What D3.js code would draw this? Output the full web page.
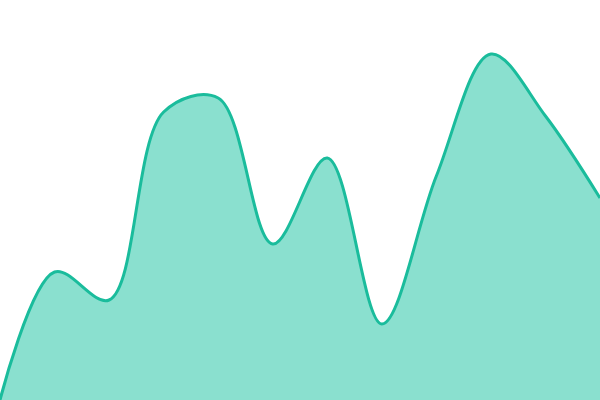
<!DOCTYPE html>
<html>
<head>
<meta charset="utf-8">
<script src="https://cdn.jsdelivr.net/npm/d3@7"></script>
<style>
  html, body { margin: 0; padding: 0; background: #fff; }
  svg { display: block; }
</style>
</head>
<body>
<div id="chart"></div>
<script>
var svgWidth = 600;
var svgHeight = 400;

// data
var points = [0, 1, 2, 3, 4, 5, 6, 7, 8, 9, 10, 11];
var values = [0, 32, 25, 72, 75.5, 39, 60.5, 19, 56, 86.5, 71, 50.5];

var svg = d3.select("#chart")
    .append("svg")
    .attr("width", svgWidth)
    .attr("height", svgHeight);

var xScale = d3.scaleLinear()
    .domain(d3.extent(points))
    .range([0, svgWidth]);

var yScale = d3.scaleLinear()
    .domain([0, 100])
    .range([svgHeight, 0]);

var data = points.map((p, i) => ({ x: p, y: values[i] }));

var area = d3.area()
    .curve(d3.curveCatmullRom)
    .x(d => xScale(d.x))
    .y0(svgHeight)
    .y1(d => yScale(d.y));

var line = d3.line()
    .curve(d3.curveCatmullRom)
    .x(d => xScale(d.x))
    .y(d => yScale(d.y));

// filled area
svg.append("path")
    .datum(data)
    .attr("d", area)
    .attr("fill", "#8ae0cf");

// outline
svg.append("path")
    .datum(data)
    .attr("d", line)
    .attr("fill", "none")
    .attr("stroke", "#1abc9c")
    .attr("stroke-width", 3);
</script>
</body>
</html>
